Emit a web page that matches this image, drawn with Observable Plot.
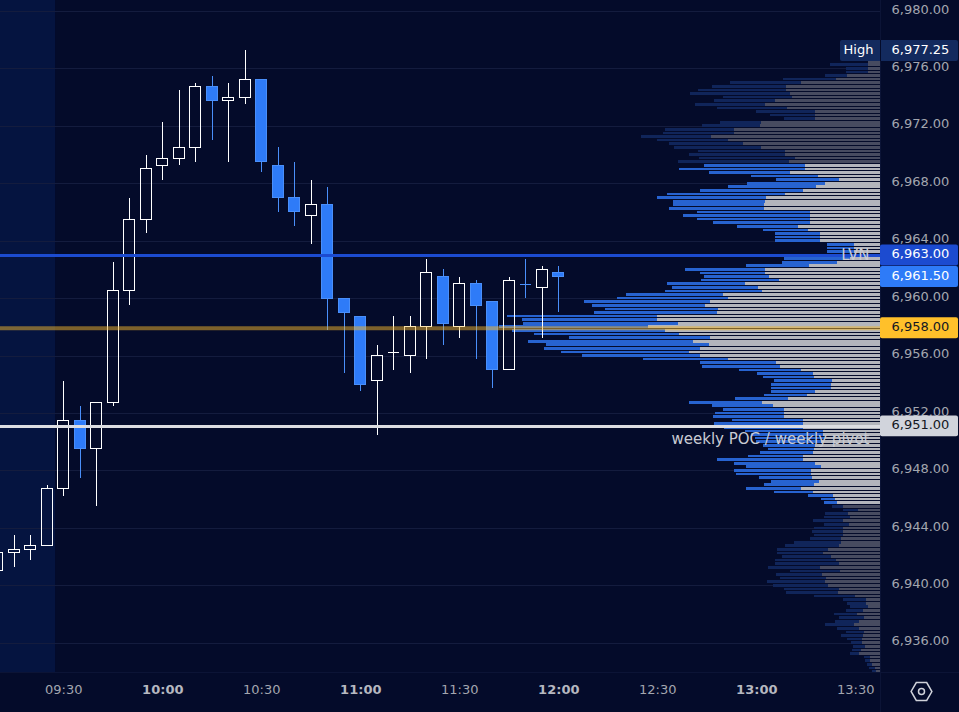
<!DOCTYPE html>
<html><head><meta charset="utf-8">
<style>html,body{margin:0;padding:0;background:#040b2a;overflow:hidden}svg{display:block}</style>
<script src="https://cdn.jsdelivr.net/npm/d3@7"></script>
<script src="https://cdn.jsdelivr.net/npm/@observablehq/plot@0.6"></script>
</head><body><div id="chart"></div>
<script>
// Candles: first bar at 09:10, one bar every 5 minutes (minutes since midnight)
const firstBarMinute = 550;
const barMinutes = 5;
const opens  = [6941,6942.25,6942.5,6942.75,6946.75,6951.5,6949.5,6952.75,6960.5,6965.5,6969.25,6969.75,6970.5,6974.75,6973.75,6974,6975.25,6969.25,6967,6965.75,6966.5,6960,6958.75,6954.25,6956.25,6956,6958,6961.5,6958,6961,6959.75,6955,6961,6960.75,6961.75];
const highs  = [6942.5,6943.5,6943.5,6947,6954.25,6952.5,6952.75,6962.5,6967,6970,6972.25,6974.5,6975,6975.5,6975,6977.25,6975.25,6970.5,6969.5,6968.25,6967.75,6960,6958.75,6956.75,6958.75,6958.75,6962.75,6962,6961.5,6961.25,6959.75,6961.5,6962.75,6962.25,6962.25];
const lows   = [6940.75,6941.25,6941.75,6942.75,6946.25,6947.5,6945.5,6952.5,6959.5,6964.5,6968.25,6969.25,6969.5,6971,6969.5,6973.5,6968.75,6966,6965,6963.75,6957.75,6954.75,6953.5,6950.5,6955,6954.75,6955.75,6956.75,6957.25,6955.75,6953.75,6955,6960,6957.25,6959];
const closes = [6942.25,6942.5,6942.75,6946.75,6951.5,6949.5,6952.75,6960.5,6965.5,6969,6969.75,6970.5,6974.75,6973.75,6974,6975.25,6969.5,6967,6966,6966.5,6960,6959,6954,6956,6956.25,6958,6961.75,6958.25,6961,6959.5,6955,6961.25,6961,6962,6961.5];

// Volume profile: top row price, one row per 0.25 point
const profileTop = 6976.5;
const profileStep = 0.25;
const greyVol = [12,12,12,12,33,44,79,94,94,90,88,105,115,93,65,65,65,119,120,146,146,169,152,137,119,95,95,85,91,
 75,75,90,62,41,55,64,77,95,114,115,116,116,70,70,70,70,82,72,60,60,60,26,26,26,26,30,43,71,115,115,111,101,135,122,118,157,152,170,175,162,163,223,223,202,232,215,201,170,187,171,180,191,180,152,104,100,79,
 67,66,48,49,49,65,73,92,118,107,96,96,96,77,77,77,57,57,55,59,65,66,67,77,77,65,59,69,69,68,61,66,79,67,47,45,43,
 37,22,32,30,37,31,37,37,37,39,39,41,52,57,49,44,41,60,40,58,54,55,52,41,42,25,14,14,12,17,23,16,21,26,21,16,17,18,18,15,19,21,10,10,8,5,4];
const blueVol = [0,38,22,22,22,53,71,74,88,100,69,61,70,70,59,45,31,41,58,69,71,70,71,74,87,87,96,96,111,
 101,126,81,67,63,78,88,103,118,109,92,91,95,113,127,113,97,61,45,45,45,45,27,27,27,30,66,55,63,80,65,65,78,78,86,97,97,111,126,113,113,123,150,135,155,149,153,145,141,165,163,156,128,118,85,76,78,62,
 56,51,58,60,60,44,43,53,73,61,61,69,71,71,89,79,78,72,70,65,52,46,53,55,86,81,75,77,75,53,48,50,55,39,25,14,13,
 11,15,23,26,30,25,29,31,29,31,47,54,51,46,49,61,64,52,50,46,46,58,55,55,52,41,23,19,18,17,23,25,24,29,22,18,22,15,11,12,9,9,6,5,5,6,4];
const valueAreaHigh = 6969.25;
const valueAreaLow = 6945.75;

// Axes
const priceTicks = [6980,6976,6972,6968,6964,6960,6956,6952,6948,6944,6940,6936];
const hourTicks = [600,660,720,780];
const hourLabels = ["10:00","11:00","12:00","13:00"];
const halfTicks = [570,630,690,750,810];
const halfLabels = ["09:30","10:30","11:30","12:30","13:30"];

// Level lines and their price labels
const levelPrices = [6963,6957.93,6951.1];
const levelColors = ["#1c4bd0","#f5b82c","#dcdde2"];
const levelOpacity = [1,0.5,1];
const levelWidths = [3,4,3];
const tagPrices = [6963,6961.5,6957.93,6951.1];
const tagTexts = ["6,963.00","6,961.50","6,958.00","6,951.00"];
const tagFills = ["#1c4bd0","#2e7bf8","#ffc02a","#d1d4dc"];
const tagInks = ["#ffffff","#ffffff","#131722","#131722"];
const highPrice = 6977.25;
const highText = "6,977.25";
const noteTexts = ["LVN","weekly POC / weekly pivot"];
const notePrices = [6963,6950.2];

// Layout
const W = 959, H = 712, mR = 79, mB = 40;
const pxPerMin = 3.3;
const xDomain = [550.82, 817.49];
const yDomain = [6933.96, 6980.76];
const xR = xDomain[1];
const bg = "#040b2a";

const bars = opens.map((o,i)=>({t:firstBarMinute+i*barMinutes,o,h:highs[i],l:lows[i],c:closes[i],
  down: closes[i]<o || (closes[i]===o && i>0 && closes[i]<closes[i-1])}));
bars.forEach(b=>{b.top=Math.max(b.o,b.c);b.bot=Math.min(b.o,b.c);
  b.line=b.down?"#4a8ffa":"#ffffff";b.fill=b.down?"#2e7bf8":"none";});
const dojis = bars.filter(b=>b.o===b.c);
const bodies = bars.filter(b=>b.o!==b.c);
const rows = greyVol.map((g,i)=>{const p=profileTop-i*profileStep;
  const on=p<=valueAreaHigh&&p>=valueAreaLow;
  return {p,g,b:blueVol[i],cg:on?"#b3b5bc":"#474b60",cb:on?"#2763d0":"#10255a"};});
const halfW = 5.65/pxPerMin;
const vol = v => xR - v/pxPerMin;
const rowHalf = 0.093;

const chart = Plot.plot({
  width:W,height:H,marginTop:0,marginLeft:0,marginRight:mR,marginBottom:mB,
  x:{type:"linear",domain:xDomain},y:{type:"linear",domain:yDomain},
  style:{background:bg,fontFamily:"'DejaVu Sans',sans-serif",fontSize:"13px",color:"#a3a6af"},
  marks:[
    Plot.rect([0],{x1:xDomain[0],x2:567.5,y1:yDomain[0],y2:yDomain[1],fill:"#051440"}),
    Plot.gridY(priceTicks,{stroke:"#141c3e",strokeOpacity:1,strokeWidth:1,shapeRendering:"crispEdges"}),
    // profile
    Plot.rect(rows,{x1:d=>vol(d.g),x2:xR,y1:d=>d.p-rowHalf,y2:d=>d.p+rowHalf,fill:d=>d.cg,shapeRendering:"crispEdges"}),
    Plot.rect(rows,{x1:d=>vol(d.g+d.b),x2:d=>vol(d.g),y1:d=>d.p-rowHalf,y2:d=>d.p+rowHalf,fill:d=>d.cb,shapeRendering:"crispEdges"}),
    // candles
    Plot.ruleX(bars,{x:"t",y1:"top",y2:"h",stroke:"line",strokeWidth:1,shapeRendering:"crispEdges"}),
    Plot.ruleX(bars,{x:"t",y1:"bot",y2:"l",stroke:"line",strokeWidth:1,shapeRendering:"crispEdges"}),
    Plot.rect(bodies,{x1:d=>d.t-halfW,x2:d=>d.t+halfW,y1:"bot",y2:"top",fill:"fill",stroke:"line",strokeWidth:1,shapeRendering:"crispEdges"}),
    Plot.ruleY(dojis,{x1:d=>d.t-halfW,x2:d=>d.t+halfW,y:"c",stroke:"line",strokeWidth:1,shapeRendering:"crispEdges"}),
    // levels
    Plot.ruleY(levelPrices,{stroke:(d,i)=>levelColors[i],strokeOpacity:(d,i)=>levelOpacity[i],strokeWidth:(d,i)=>levelWidths[i]}),
    // panel separators
    Plot.ruleX([xR],{y1:yDomain[0]-40/14.36,y2:yDomain[1],stroke:"#0c1436",shapeRendering:"crispEdges"}),
    Plot.ruleY([yDomain[0]],{x1:xDomain[0],x2:xR+mR/pxPerMin,stroke:"#0c1436",shapeRendering:"crispEdges"}),
    // axes
    Plot.axisY(priceTicks,{anchor:"right",tickSize:0,tickPadding:11,tickFormat:d3.format(",.2f"),label:null,fill:"#a3a6af",fontSize:13,dy:-2}),
    Plot.axisX(halfTicks,{anchor:"bottom",tickSize:0,tickPadding:12,tickFormat:d=>halfLabels[halfTicks.indexOf(d)],label:null,fill:"#a3a6af",fontSize:13}),
    Plot.axisX(hourTicks,{anchor:"bottom",tickSize:0,tickPadding:12,tickFormat:d=>hourLabels[hourTicks.indexOf(d)],label:null,fill:"#b6b8c0",fontSize:13,fontWeight:"bold"}),
    // notes
    Plot.text(noteTexts,{x:xR,y:(d,i)=>notePrices[i],text:d=>d,dx:-11,textAnchor:"end",fill:"#c9cbd3",fontSize:15}),
    // price tags
    Plot.rect(tagPrices,{x1:xR,x2:xR+78/pxPerMin,y1:d=>d-0.73,y2:d=>d+0.73,fill:(d,i)=>tagFills[i],rx:2}),
    Plot.text(tagPrices,{x:xR,y:d=>d,text:(d,i)=>tagTexts[i],dx:11,dy:-1.5,textAnchor:"start",fill:(d,i)=>tagInks[i],fontSize:13}),
    Plot.rect([highPrice],{x1:xR-40/pxPerMin,x2:xR+78/pxPerMin,y1:d=>d-0.73,y2:d=>d+0.73,fill:"#132a5e",rx:2}),
    Plot.ruleX([xR],{y1:highPrice-0.73,y2:highPrice+0.73,stroke:"#040b2a",shapeRendering:"crispEdges"}),
    Plot.text([highPrice],{x:xR,y:d=>d,text:["High"],dx:-37,dy:-1.5,textAnchor:"start",fill:"#ffffff",fontSize:13}),
    Plot.text([highPrice],{x:xR,y:d=>d,text:[highText],dx:11,dy:-1.5,textAnchor:"start",fill:"#ffffff",fontSize:13}),
    // settings icon
    Plot.dot([0],{frameAnchor:"bottom-right",dx:41,dy:19,symbol:"hexagon",r:9,rotate:30,fill:"none",stroke:"#d0d2da",strokeWidth:1.5}),
    Plot.dot([0],{frameAnchor:"bottom-right",dx:41,dy:19,r:3,fill:"none",stroke:"#d0d2da",strokeWidth:1.5})
  ]
});
document.getElementById("chart").appendChild(chart);
</script></body></html>
